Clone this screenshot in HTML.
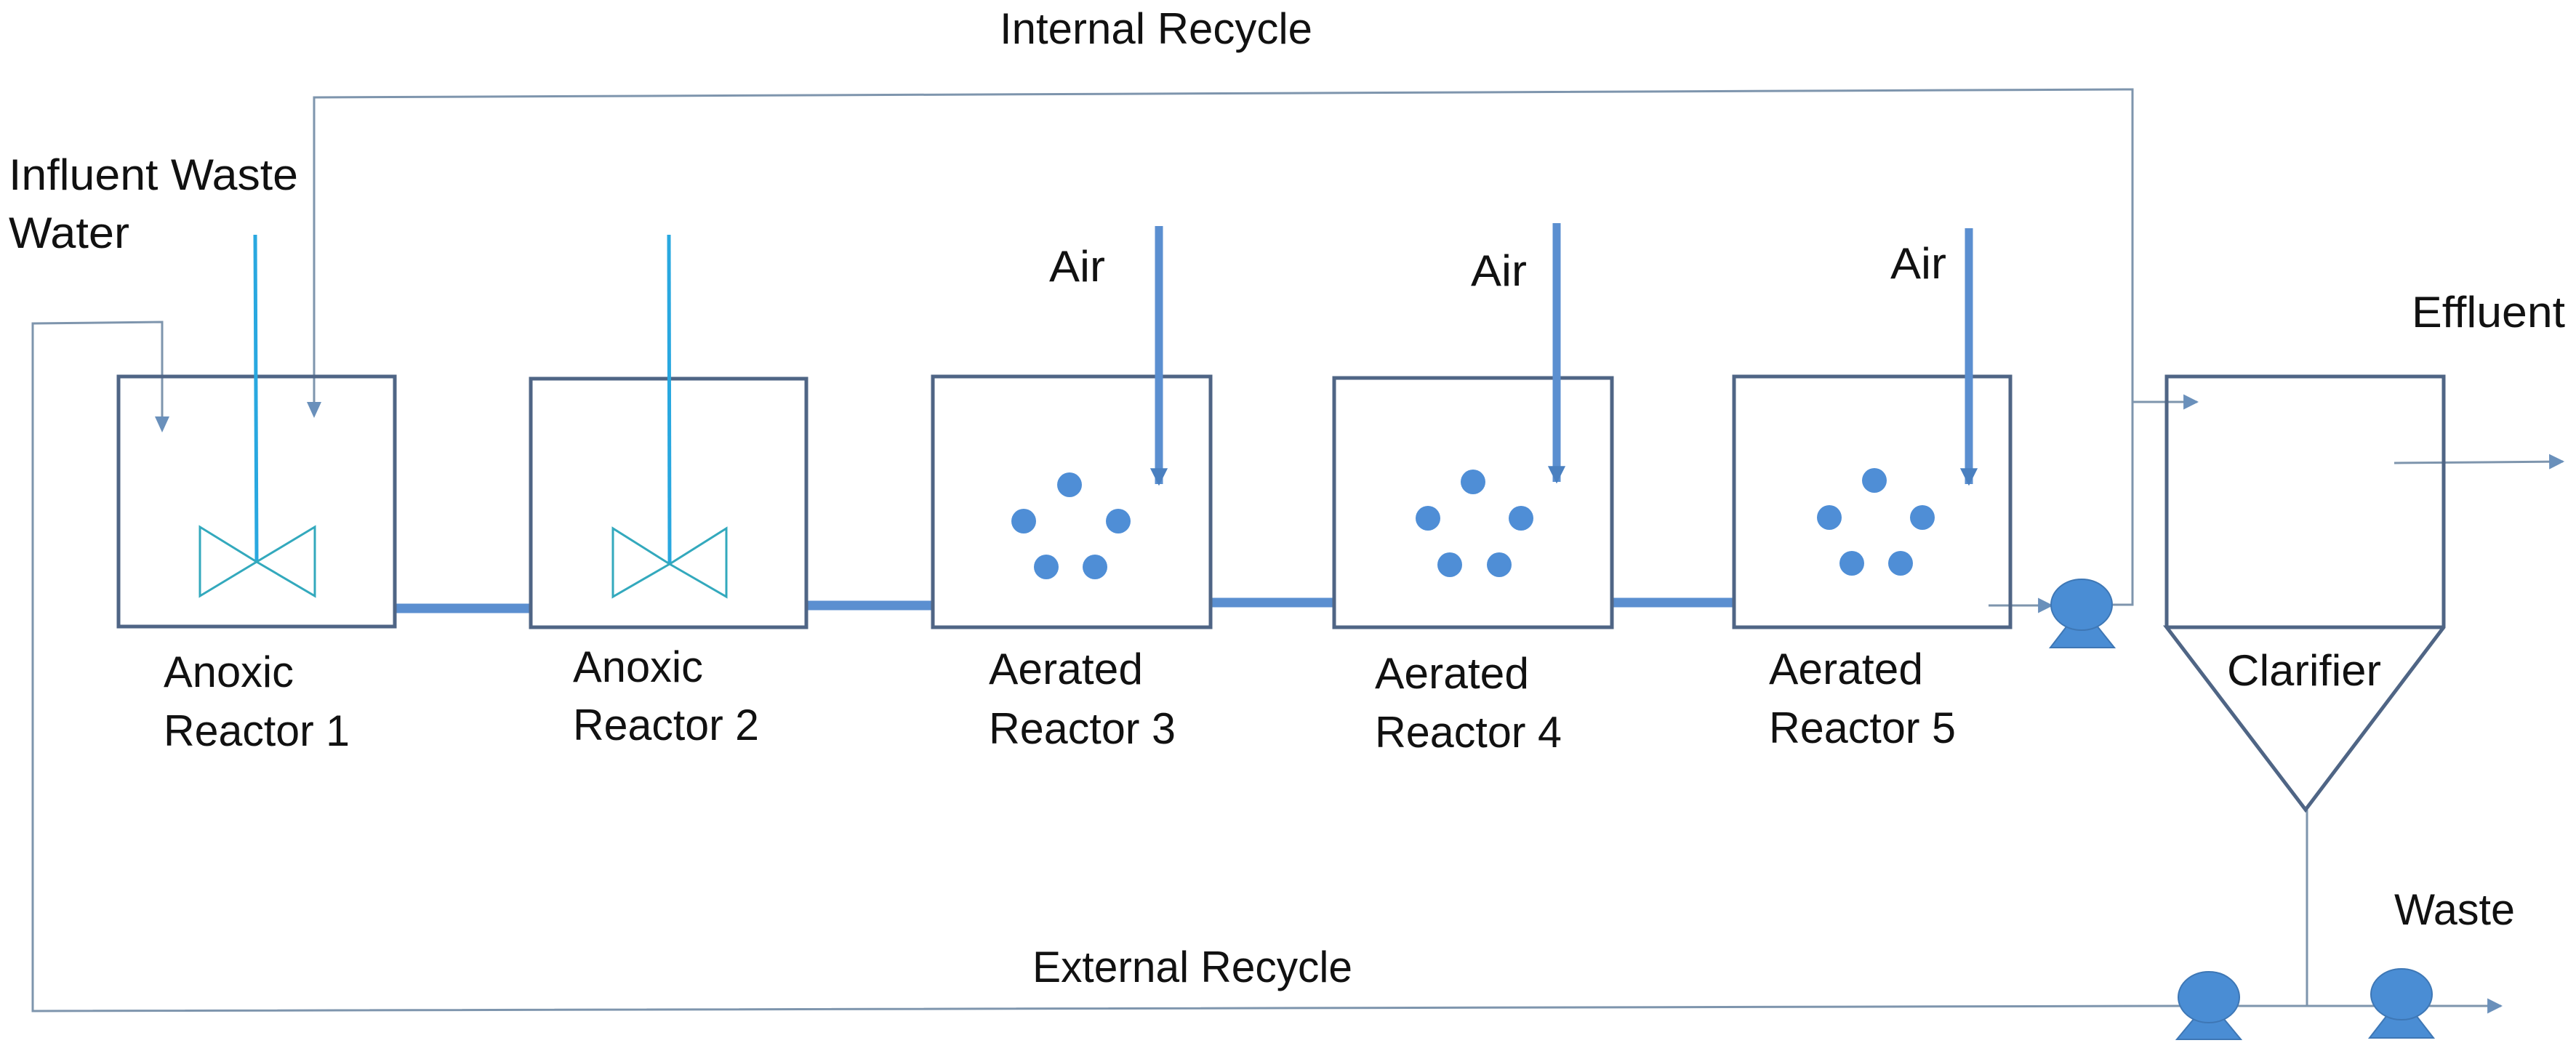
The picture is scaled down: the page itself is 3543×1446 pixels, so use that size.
<!DOCTYPE html>
<html><head><meta charset="utf-8"><style>
html,body{margin:0;padding:0;background:#fff;}
svg{display:block;}
text{font-family:"Liberation Sans",sans-serif;font-size:60px;fill:#111;}
</style></head><body>
<svg width="3543" height="1446" viewBox="0 0 3543 1446" xmlns="http://www.w3.org/2000/svg">
<defs>
<marker id="ah" viewBox="0 0 10 10" refX="9" refY="5" markerWidth="7" markerHeight="7" markerUnits="strokeWidth" orient="auto">
<path d="M0,0 L10,5 L0,10 z" fill="#6a90bb"/></marker>
<marker id="ah2" viewBox="0 0 10 10" refX="9" refY="5" markerWidth="2.2" markerHeight="2.2" markerUnits="strokeWidth" orient="auto">
<path d="M0,0 L10,5 L0,10 z" fill="#4a80c0"/></marker>
</defs>
<rect width="3543" height="1446" fill="#fff"/>

<text x="1375" y="60" textLength="430" lengthAdjust="spacingAndGlyphs">Internal Recycle</text>
<text x="12" y="261" textLength="398" lengthAdjust="spacingAndGlyphs">Influent Waste</text>
<text x="12" y="341" textLength="166" lengthAdjust="spacingAndGlyphs">Water</text>
<text x="225" y="945" textLength="179" lengthAdjust="spacingAndGlyphs">Anoxic</text>
<text x="225" y="1026" textLength="256" lengthAdjust="spacingAndGlyphs">Reactor 1</text>
<text x="788" y="938" textLength="179" lengthAdjust="spacingAndGlyphs">Anoxic</text>
<text x="788" y="1018" textLength="256" lengthAdjust="spacingAndGlyphs">Reactor 2</text>
<text x="1360" y="941" textLength="212" lengthAdjust="spacingAndGlyphs">Aerated</text>
<text x="1360" y="1023" textLength="257" lengthAdjust="spacingAndGlyphs">Reactor 3</text>
<text x="1891" y="947" textLength="212" lengthAdjust="spacingAndGlyphs">Aerated</text>
<text x="1891" y="1028" textLength="257" lengthAdjust="spacingAndGlyphs">Reactor 4</text>
<text x="2433" y="941" textLength="212" lengthAdjust="spacingAndGlyphs">Aerated</text>
<text x="2433" y="1022" textLength="257" lengthAdjust="spacingAndGlyphs">Reactor 5</text>
<text x="1443" y="387" textLength="77" lengthAdjust="spacingAndGlyphs">Air</text>
<text x="2023" y="393" textLength="77" lengthAdjust="spacingAndGlyphs">Air</text>
<text x="2600" y="383" textLength="77" lengthAdjust="spacingAndGlyphs">Air</text>
<text x="3063" y="943" textLength="212" lengthAdjust="spacingAndGlyphs">Clarifier</text>
<text x="3317" y="450" textLength="211" lengthAdjust="spacingAndGlyphs">Effluent</text>
<text x="3293" y="1272" textLength="166" lengthAdjust="spacingAndGlyphs">Waste</text>
<text x="1420" y="1351" textLength="440" lengthAdjust="spacingAndGlyphs">External Recycle</text>

<g fill="none" stroke="#7e95ad" stroke-width="3">
<polyline points="432,555 432,134 2933,123 2933,832 2906,832"/>
<polyline points="2933,553 3022,553" marker-end="url(#ah)"/>
<polyline points="223,575 223,443 45,445 45,1391 3000,1384"/>
<polyline points="3173,1114 3173,1384"/>
<polyline points="3000,1384 3440,1384" marker-end="url(#ah)"/>
<polyline points="3293,637 3525,635" marker-end="url(#ah)"/>
<polyline points="2735,833 2822,833" marker-end="url(#ah)"/>
</g>
<path d="M422,553 L442,553 L432,575 z" fill="#6a90bb"/>
<path d="M213,573 L233,573 L223,595 z" fill="#6a90bb"/>

<g stroke="#5b8fd0" stroke-width="13">
<line x1="544" y1="837" x2="730" y2="837"/>
<line x1="1109" y1="833" x2="1283" y2="833"/>
<line x1="1665" y1="829" x2="1835" y2="829"/>
<line x1="2217" y1="829" x2="2385" y2="829"/>
</g>

<g fill="none" stroke="#4f6585" stroke-width="5">
<rect x="163" y="518" width="380" height="344"/>
<rect x="730" y="521" width="379" height="342"/>
<rect x="1283" y="518" width="382" height="345"/>
<rect x="1835" y="520" width="382" height="343"/>
<rect x="2385" y="518" width="380" height="345"/>
<polyline points="2980,863 2980,518 3361,518 3361,863 3171,1114 2980,863 3361,863"/>
</g>

<g stroke="#29a8e0" stroke-width="5">
<line x1="351" y1="323" x2="353" y2="773"/>
<line x1="920" y1="323" x2="921" y2="776"/>
</g>
<g fill="none" stroke="#33a9bd" stroke-width="3">
<path d="M353,773 L275,725 L275,820 z M353,773 L433,725 L433,820 z"/>
<path d="M921,776 L843,727 L843,821 z M921,776 L999,727 L999,821 z"/>
</g>

<g stroke="#5b8fd0" stroke-width="11" marker-end="url(#ah2)">
<line x1="1594" y1="311" x2="1594" y2="666"/>
<line x1="2141" y1="307" x2="2141" y2="663"/>
<line x1="2708" y1="314" x2="2708" y2="666"/>
</g>

<g fill="#4f8ed6">
<ellipse cx="1471" cy="667" rx="17" ry="17"/><ellipse cx="1408" cy="717" rx="17" ry="17"/><ellipse cx="1538" cy="717" rx="17" ry="17"/><ellipse cx="1439" cy="780" rx="17" ry="17"/><ellipse cx="1506" cy="780" rx="17" ry="17"/>
<ellipse cx="2026" cy="663" rx="17" ry="17"/><ellipse cx="1964" cy="713" rx="17" ry="17"/><ellipse cx="2092" cy="713" rx="17" ry="17"/><ellipse cx="1994" cy="777" rx="17" ry="17"/><ellipse cx="2062" cy="777" rx="17" ry="17"/>
<ellipse cx="2578" cy="661" rx="17" ry="17"/><ellipse cx="2516" cy="712" rx="17" ry="17"/><ellipse cx="2644" cy="712" rx="17" ry="17"/><ellipse cx="2547" cy="775" rx="17" ry="17"/><ellipse cx="2614" cy="775" rx="17" ry="17"/>
</g>

<g fill="#4a8dd4" stroke="#3e77b5" stroke-width="2">
<path d="M2843,861 L2884,861 L2908,891 L2820,891 z"/><ellipse cx="2863" cy="832" rx="42" ry="35"/>
<path d="M3018,1401 L3058,1401 L3082,1430 L2994,1430 z"/><ellipse cx="3038" cy="1372" rx="42" ry="35"/>
<path d="M3283,1397 L3323,1397 L3347,1428 L3259,1428 z"/><ellipse cx="3303" cy="1368" rx="42" ry="35"/>
</g>
</svg>
</body></html>
